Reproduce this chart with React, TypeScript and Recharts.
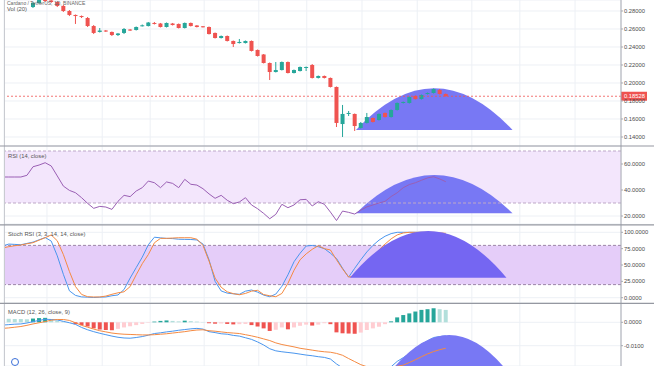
import React from 'react';
import { ComposedChart, Bar, Line, XAxis, YAxis, CartesianGrid, ReferenceArea, ReferenceLine, Cell } from 'recharts';

// ---------- data ----------
const candleOpen = [0.2844,0.2889,0.2922,0.2917,0.2900,0.2856,0.2800,0.2756,0.2744,0.2722,0.2633,0.2567,0.2583,0.2567,0.2533,0.2556,0.2594,0.2589,0.2633,0.2633,0.2667,0.2661,0.2622,0.2661,0.2656,0.2611,0.2667,0.2639,0.2630,0.2622,0.2556,0.2500,0.2522,0.2467,0.2444,0.2444,0.2467,0.2367,0.2317,0.2222,0.2122,0.2144,0.2233,0.2111,0.2133,0.2167,0.2200,0.2056,0.2078,0.2056,0.1956,0.1544,0.1661,0.1656,0.1500,0.1556,0.1611,0.1589,0.1667,0.1622,0.1700,0.1778,0.1778,0.1856,0.1822,0.1878,0.1889,0.1922,0.1878];
const candleHigh = [0.2900,0.2933,0.2933,0.2922,0.2906,0.2867,0.2811,0.2761,0.2750,0.2733,0.2644,0.2611,0.2589,0.2572,0.2556,0.2611,0.2600,0.2628,0.2650,0.2678,0.2678,0.2667,0.2672,0.2667,0.2661,0.2672,0.2672,0.2644,0.2633,0.2628,0.2561,0.2528,0.2528,0.2472,0.2489,0.2472,0.2472,0.2372,0.2322,0.2228,0.2233,0.2239,0.2239,0.2150,0.2183,0.2183,0.2211,0.2083,0.2083,0.2061,0.1961,0.1756,0.1689,0.1661,0.1567,0.1667,0.1617,0.1661,0.1672,0.1706,0.1783,0.1794,0.1850,0.1861,0.1872,0.1894,0.1939,0.1933,0.1883];
const candleLow = [0.2833,0.2878,0.2900,0.2889,0.2844,0.2789,0.2744,0.2656,0.2722,0.2622,0.2544,0.2561,0.2567,0.2522,0.2522,0.2544,0.2578,0.2583,0.2628,0.2628,0.2650,0.2617,0.2617,0.2639,0.2606,0.2606,0.2628,0.2617,0.2617,0.2539,0.2494,0.2494,0.2461,0.2400,0.2439,0.2439,0.2350,0.2294,0.2217,0.2033,0.2117,0.2139,0.2106,0.2106,0.2128,0.2133,0.2050,0.2050,0.2050,0.1950,0.1511,0.1400,0.1633,0.1467,0.1494,0.1550,0.1561,0.1583,0.1617,0.1617,0.1694,0.1772,0.1772,0.1817,0.1817,0.1872,0.1883,0.1872,0.1850];
const candleClose = [0.2889,0.2922,0.2911,0.2900,0.2856,0.2800,0.2756,0.2744,0.2733,0.2633,0.2556,0.2583,0.2572,0.2533,0.2550,0.2600,0.2583,0.2622,0.2641,0.2672,0.2656,0.2622,0.2667,0.2644,0.2611,0.2667,0.2633,0.2622,0.2622,0.2544,0.2500,0.2522,0.2467,0.2433,0.2456,0.2467,0.2356,0.2300,0.2222,0.2122,0.2144,0.2233,0.2111,0.2144,0.2178,0.2178,0.2056,0.2078,0.2056,0.1956,0.1556,0.1656,0.1667,0.1522,0.1556,0.1622,0.1567,0.1656,0.1622,0.1700,0.1778,0.1789,0.1844,0.1822,0.1867,0.1889,0.1933,0.1878,0.18528];
const lastPrice = 0.18528;

// indicators start 5 bars before the first visible candle
const INDICATOR_START = -5;
const rsiValues = [50,50,50,50,51.3,57.9,59.2,61,58.5,50.8,43,39.7,37.9,34.1,29.7,25.9,27.4,26.9,25.1,31.3,35.9,34.9,39.2,41.8,46.9,45.6,41.8,46.2,45.1,41.8,48.2,44.4,43.8,41,37,33.6,35.9,32.1,29.5,30.8,34.1,28.5,25.6,22,17.9,21.3,29,26.4,28.5,32.5,32.8,27.7,31,29,23,16.5,23.8,22.8,21.5,24.5,27,28.5,30,31.3,35,37.9,41.8,44.2,45.6,47.5,49.3,50.2,48.5,46.4];
const stochK = [79,82,81.5,81,83,85,88.5,92,86.6,64,35.7,10.5,3.5,1.2,0.8,0.3,0.8,1.1,3,4.2,12.5,30,46,62,81,92.5,91.5,90.7,90.4,89.4,89.2,89,88.3,82,58,25,10.3,7,6,5.2,10,11.8,8.5,4,1.5,5.5,17.5,35,55,68,79,80,78,75,68,60,45,31.5,45,58,70,80,88,94,98,100,100,100,100,100,99.5,99,98,97];
const stochD = [76,78,79.5,80.5,82.5,84.1,88,91.7,96,87,66,40,17,5,1.5,1.1,1.1,2.5,5.2,7.5,9,17,35,52,66,84,90.7,90.7,91.2,91.7,91.7,91.7,89.5,80,56,30,16,9,6.2,4.5,6.5,10,11.3,4.8,3,1.5,6.5,22,42,58,67,74,79.5,75,73,58,44,31.5,33,42,52,63,73,82,90,96,99,100,100,100,100,100,99,98.5];
const macdLine = [-0.0012,-0.0010,-0.0008,-0.0007,-0.0003,0.0003,0.0008,0.0013,0.0012,0.0010,0.0004,-0.0002,-0.0009,-0.0022,-0.0032,-0.0040,-0.0047,-0.0053,-0.0059,-0.0064,-0.0067,-0.0068,-0.0065,-0.0061,-0.0055,-0.0048,-0.0045,-0.0041,-0.0038,-0.0034,-0.0031,-0.0028,-0.0026,-0.0029,-0.0040,-0.0044,-0.0049,-0.0051,-0.0056,-0.0059,-0.0066,-0.0073,-0.0084,-0.0097,-0.0113,-0.0122,-0.0126,-0.0129,-0.0132,-0.0136,-0.0140,-0.0143,-0.0147,-0.0150,-0.0157,-0.0178,-0.0195,-0.0210,-0.0220,-0.0225,-0.0225,-0.0222,-0.0217,-0.0205,-0.0190,-0.0167,-0.0151,-0.0134,-0.0114,-0.0094,-0.0079,-0.0065,-0.0061,-0.0058];
const signalLine = [-0.0026,-0.0024,-0.0021,-0.0018,-0.0013,-0.0007,-0.0002,0.0003,0.0009,0.0012,0.0012,0.0008,-0.0002,-0.0013,-0.0021,-0.0029,-0.0036,-0.0041,-0.0046,-0.0049,-0.0051,-0.0052,-0.0053,-0.0054,-0.0054,-0.0053,-0.0051,-0.0049,-0.0046,-0.0043,-0.0040,-0.0036,-0.0033,-0.0032,-0.0036,-0.0038,-0.0041,-0.0044,-0.0046,-0.0048,-0.0053,-0.0058,-0.0064,-0.0071,-0.0078,-0.0088,-0.0095,-0.0100,-0.0105,-0.0111,-0.0115,-0.0119,-0.0123,-0.0126,-0.0128,-0.0133,-0.0141,-0.0155,-0.0168,-0.0181,-0.0190,-0.0196,-0.0198,-0.0197,-0.0193,-0.0188,-0.0183,-0.0172,-0.0160,-0.0147,-0.0135,-0.0125,-0.0117,-0.0111];
const macdHist = [0.0016,0.0015,0.0014,0.0014,0.0013,0.0016,0.0018,0.0019,0.0012,0.0007,0.0003,0.0001,-0.0008,-0.0012,-0.0018,-0.0026,-0.0031,-0.0033,-0.0034,-0.0028,-0.0022,-0.0017,-0.0012,-0.0007,-0.0002,0.0003,0.0006,0.0008,0.0006,0.0004,0.0007,0.0005,0.0003,0.0001,-0.0004,-0.0006,-0.0005,-0.0007,-0.0009,-0.0008,-0.0007,-0.0012,-0.0018,-0.0026,-0.0037,-0.0032,-0.0022,-0.0030,-0.0022,-0.0015,-0.0010,-0.0014,-0.0010,-0.0004,-0.0008,-0.0043,-0.0047,-0.0048,-0.0049,-0.0044,-0.0033,-0.0026,-0.0019,-0.0008,0.0004,0.0021,0.0031,0.0038,0.0046,0.0053,0.0056,0.0060,0.0056,0.0053];

// axis ticks
const gridTicks = [2.3, 11.4, 19.3, 28.2, 37.2, 45.1, 54.2, 63.3, 72.3, 80.2, 89.3];
const priceTicks = [0.14, 0.16, 0.18, 0.2, 0.22, 0.24, 0.26, 0.28];
const rsiTicks = [20, 40, 60];
const stochTicks = [0, 25, 50, 75, 100];
const macdTicks = [-0.01, 0];

// dome drawing (start bar, end bar, base value, peak value)
const domeMain = { x1: 53.2, x2: 79.0, base: 0.14778, top: 0.19411 };
const domeRsi = { x1: 53.2, x2: 79.0, base: 22.1, top: 51.5 };
const domeStoch = { x1: 52.2, x2: 78.0, base: 30.6, top: 102 };
const domeMacd = { x1: 55.7, x2: 81.4, base: -0.0332, top: -0.00543 };

// ---------- styling ----------
const W = 654;
const X_DOMAIN: [number, number] = [-4.78, 96.87];
const UP = '#26A69A';
const DOWN = '#EF5350';
const FONT = '"Liberation Sans", Arial, sans-serif';
const GRID = '#EDF0F5';
const DOME = '#7878F4';
const AXIS_W = 33;

const candleRows = candleOpen.map((o, k) => ({
  i: k,
  open: o,
  high: candleHigh[k],
  low: candleLow[k],
  close: candleClose[k],
  range: [candleLow[k], candleHigh[k]],
}));

const indRows = rsiValues.map((v, k) => ({
  i: k + INDICATOR_START,
  rsi: v,
  k: stochK[k],
  d: stochD[k],
  macd: macdLine[k],
  signal: signalLine[k],
  hist: macdHist[k],
}));

const histColors = macdHist.map((v, k) => {
  const prev = k > 0 ? macdHist[k - 1] : v;
  if (v >= 0) return v > prev ? '#26A69A' : '#B2DFDB';
  return v < prev ? '#EF5350' : '#FFCDD2';
});

const CandleShape = (props: any) => {
  const { x, y, width, height } = props;
  const p = props.payload || props;
  if (x == null || y == null || !isFinite(height)) return null;
  const top = Math.min(y, y + height);
  const h = Math.abs(height);
  const ratio = h / (p.high - p.low);
  const cx = x + width / 2;
  const yo = top + (p.high - p.open) * ratio;
  const yc = top + (p.high - p.close) * ratio;
  const color = p.close >= p.open ? UP : DOWN;
  return (
    <g>
      <line x1={cx} x2={cx} y1={top} y2={top + h} stroke={color} strokeWidth={1} />
      <rect x={x} y={Math.min(yo, yc)} width={width} height={Math.max(1, Math.abs(yc - yo))} fill={color} />
    </g>
  );
};

const domeShape = (fill: string) => (props: any) => {
  const { x, y, width, height } = props;
  if (x == null || y == null) return null;
  const base = y + height;
  return <path d={`M${x},${base} Q${x + width / 2},${y - height} ${x + width},${base} Z`} fill={fill} stroke="none" />;
};

const PriceLabel = (props: any) => {
  const vb = props.viewBox || {};
  const x = (vb.x || 0) + (vb.width || 0);
  const y = vb.y || 0;
  return (
    <g>
      <rect x={x} y={y - 4.5} width={26} height={9} fill={DOWN} />
      <text x={x + 3} y={y + 2.2} fontSize={5.8} fill="#fff" fontFamily={FONT}>{lastPrice.toFixed(5)}</text>
    </g>
  );
};

const tickStyle = { fontSize: 5.8, fill: '#4A4A4A', fontFamily: FONT };

function xAxis() {
  return <XAxis type="number" dataKey="i" domain={X_DOMAIN} allowDataOverflow ticks={gridTicks} hide />;
}
function yAxis(domain: [number, number], ticks: number[], digits: number) {
  return (
    <YAxis
      orientation="right"
      width={AXIS_W}
      type="number"
      domain={domain}
      allowDataOverflow
      ticks={ticks}
      interval={0}
      tick={tickStyle}
      tickSize={2}
      tickMargin={1}
      axisLine={{ stroke: '#A7AAB2' }}
      tickLine={{ stroke: '#A7AAB2' }}
      tickFormatter={(v: number) => v.toFixed(digits)}
    />
  );
}

const margin = { top: 0, right: 0, bottom: 0, left: 4 };

function Panel({ top, height, children }: { top: number; height: number; children: React.ReactNode }) {
  return <div style={{ position: 'absolute', left: 0, top, width: W, height }}>{children}</div>;
}

export default function App() {
  return (
    <div style={{ position: 'absolute', left: 0, top: 0, width: W, height: 366, overflow: 'hidden', background: '#fff' }}>
      <Panel top={0} height={146}>
        <ComposedChart width={W} height={146} data={candleRows} margin={margin}>
          <CartesianGrid stroke={GRID} strokeWidth={1} />
          {xAxis()}
          {yAxis([0.13, 0.29222], priceTicks, 5)}
          <ReferenceArea x1={domeMain.x1} x2={domeMain.x2} y1={domeMain.base} y2={domeMain.top} ifOverflow="visible" shape={domeShape(DOME)} />
          <Bar dataKey="range" barSize={4} isAnimationActive={false} shape={CandleShape} />
          <ReferenceLine y={lastPrice} stroke={DOWN} strokeDasharray="2 2" strokeWidth={0.8} label={<PriceLabel />} />
        </ComposedChart>
      </Panel>
      <Panel top={146} height={78}>
        <ComposedChart width={W} height={78} data={indRows} margin={margin}>
          <ReferenceArea y1={30} y2={70} fill="#F3E6FC" fillOpacity={1} stroke="none" />
          <CartesianGrid stroke={GRID} strokeWidth={1} />
          {xAxis()}
          {yAxis([13.85, 73.85], rsiTicks, 4)}
          <ReferenceLine y={70} stroke="#BDA8C7" strokeDasharray="3 2" />
          <ReferenceLine y={30} stroke="#BDA8C7" strokeDasharray="3 2" />
          <ReferenceArea x1={domeRsi.x1} x2={domeRsi.x2} y1={domeRsi.base} y2={domeRsi.top} ifOverflow="visible" shape={domeShape(DOME)} />
          <Line dataKey="rsi" stroke="#9A5FB4" strokeWidth={1} dot={false} isAnimationActive={false} />
        </ComposedChart>
      </Panel>
      <Panel top={224} height={79}>
        <ComposedChart width={W} height={79} data={indRows} margin={margin}>
          <ReferenceArea y1={20} y2={80} fill="#E5CDF9" fillOpacity={1} stroke="none" />
          <CartesianGrid stroke={GRID} strokeWidth={1} />
          {xAxis()}
          {yAxis([-8.1, 112.7], stochTicks, 4)}
          <ReferenceLine y={80} stroke="#9C84A8" strokeDasharray="3 2" />
          <ReferenceLine y={20} stroke="#9C84A8" strokeDasharray="3 2" />
          <Line dataKey="k" stroke="#4A96EE" strokeWidth={1} dot={false} isAnimationActive={false} />
          <Line dataKey="d" stroke="#F58A42" strokeWidth={1} dot={false} isAnimationActive={false} />
          <ReferenceArea x1={domeStoch.x1} x2={domeStoch.x2} y1={domeStoch.base} y2={domeStoch.top} ifOverflow="visible" shape={domeShape('#7566F2')} zIndex={450} />
        </ComposedChart>
      </Panel>
      <Panel top={303} height={63}>
        <ComposedChart width={W} height={63} data={indRows} margin={margin}>
          <CartesianGrid stroke={GRID} strokeWidth={1} />
          {xAxis()}
          {yAxis([-0.01868, 0.00825], macdTicks, 4)}
          <Bar dataKey="hist" barSize={4} isAnimationActive={false}>
            {indRows.map((r, k) => (
              <Cell key={k} fill={histColors[k]} />
            ))}
          </Bar>
          <Line dataKey="macd" stroke="#4A96EE" strokeWidth={1} dot={false} isAnimationActive={false} />
          <ReferenceArea x1={domeMacd.x1} x2={domeMacd.x2} y1={domeMacd.base} y2={domeMacd.top} ifOverflow="visible" shape={domeShape(DOME)} zIndex={450} />
          <Line dataKey="signal" stroke="#F58A42" strokeWidth={1} dot={false} isAnimationActive={false} zIndex={500} />
        </ComposedChart>
      </Panel>
      <svg width={W} height={366} style={{ position: 'absolute', left: 0, top: 0, pointerEvents: 'none' }}>
        <line x1={4.5} x2={4.5} y1={0} y2={366} stroke="#C9CBD1" strokeWidth={1} />
        <line x1={0} x2={W} y1={146} y2={146} stroke="#9598A1" strokeWidth={1.2} />
        <line x1={0} x2={W} y1={224.8} y2={224.8} stroke="#9598A1" strokeWidth={1.2} />
        <line x1={0} x2={W} y1={303.3} y2={303.3} stroke="#9598A1" strokeWidth={1.2} />
        <text x={7} y={4.8} fontSize={5} fill="#666" fontFamily={FONT}>Cardano / TetherUS, 1D, BINANCE</text>
        <text x={7} y={10.8} fontSize={5.8} fill="#555" fontFamily={FONT}>Vol (20)</text>
        <text x={8} y={158} fontSize={5.8} fill="#555" fontFamily={FONT}>RSI (14, close)</text>
        <text x={8} y={236} fontSize={5.8} fill="#555" fontFamily={FONT}>Stoch RSI (3, 3, 14, 14, close)</text>
        <text x={8} y={314} fontSize={5.8} fill="#555" fontFamily={FONT}>MACD (12, 26, close, 9)</text>
        <circle cx={15} cy={362} r={3.5} fill="#fff" stroke="#3A6FD8" strokeWidth={1} />
      </svg>
    </div>
  );
}
